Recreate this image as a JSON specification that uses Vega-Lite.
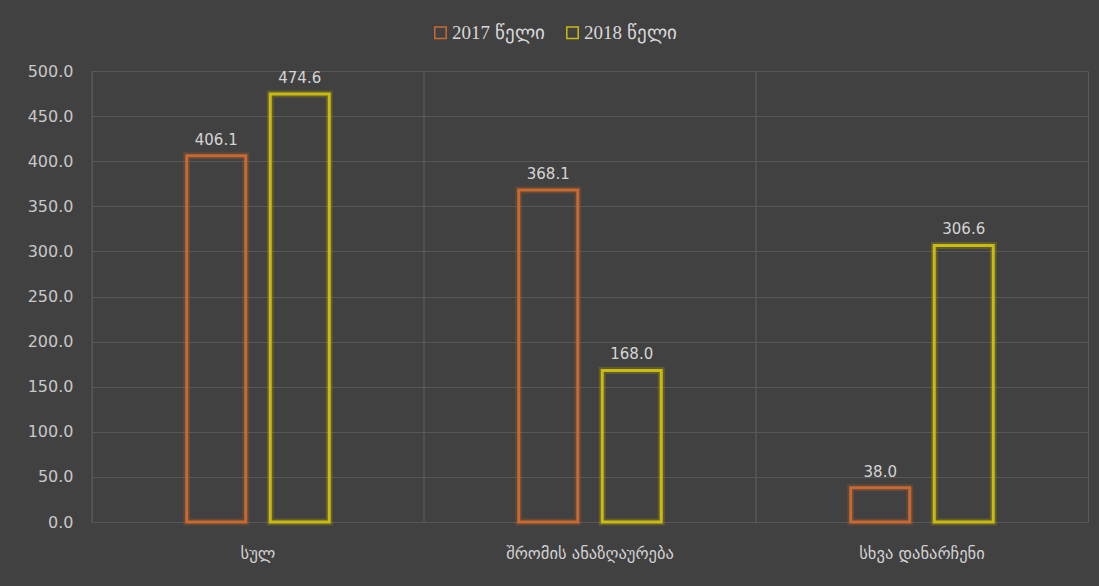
{
  "$schema": "https://vega.github.io/schema/vega-lite/v6.json",
  "width": 996,
  "height": 451,
  "autosize": {"type": "none"},
  "padding": {"left": 92, "top": 71, "right": 11, "bottom": 64},
  "background": "#414141",
  "config": {
    "view": {"stroke": "#5a5a5a", "strokeWidth": 1},
    "font": "DejaVu Sans"
  },
  "data": {
    "values": [
      {"category": "სულ", "year": "2017 წელი", "value": 406.1},
      {"category": "სულ", "year": "2018 წელი", "value": 474.6},
      {"category": "შრომის ანაზღაურება", "year": "2017 წელი", "value": 368.1},
      {"category": "შრომის ანაზღაურება", "year": "2018 წელი", "value": 168.0},
      {"category": "სხვა დანარჩენი", "year": "2017 წელი", "value": 38.0},
      {"category": "სხვა დანარჩენი", "year": "2018 წელი", "value": 306.6}
    ]
  },
  "encoding": {
    "x": {
      "field": "category",
      "type": "nominal",
      "sort": null,
      "scale": {"paddingInner": 0, "paddingOuter": 0},
      "axis": {
        "title": null,
        "labelAngle": 0,
        "domain": false,
        "ticks": false,
        "grid": false,
        "labelColor": "#d2d2d2",
        "labelFontSize": 16.5,
        "labelPadding": 23
      }
    }
  },
  "layer": [
    {
      "mark": {"type": "rule", "color": "#575757", "strokeWidth": 1},
      "encoding": {
        "x": {"field": "category", "type": "nominal", "sort": null, "bandPosition": 0}
      }
    },
    {
      "mark": {"type": "bar", "fill": "transparent", "strokeWidth": 7, "strokeOpacity": 0.22, "width": 59},
      "encoding": {
        "xOffset": {"field": "year", "type": "nominal", "scale": {"paddingInner": 0, "paddingOuter": 0.988}},
        "y": {
          "field": "value",
          "type": "quantitative",
          "scale": {"domain": [0, 500], "nice": false},
          "axis": {
            "title": null,
            "values": [0, 50, 100, 150, 200, 250, 300, 350, 400, 450, 500],
            "format": ".1f",
            "domain": false,
            "ticks": false,
            "gridColor": "#575757",
            "gridWidth": 1,
            "labelColor": "#c8c8c8",
            "labelFontSize": 16,
            "labelPadding": 19
          }
        },
        "stroke": {
          "field": "year",
          "type": "nominal",
          "scale": {"range": ["#c9692f", "#cbbb0a"]},
          "legend": {
            "title": null,
            "orient": "none",
            "direction": "horizontal",
            "legendX": 339,
            "legendY": -48,
            "symbolType": "square",
            "symbolFillColor": "transparent",
            "symbolStrokeWidth": 1.5,
            "symbolSize": 130,
            "symbolOpacity": 1,
            "labelColor": "#d8d8d8",
            "labelFontSize": 19,
            "labelFont": "Liberation Serif",
            "labelOffset": 2,
            "columnPadding": 18
          }
        }
      }
    },
    {
      "mark": {"type": "bar", "fill": "transparent", "strokeWidth": 3, "width": 59},
      "encoding": {
        "xOffset": {"field": "year", "type": "nominal", "scale": {"paddingInner": 0, "paddingOuter": 0.988}},
        "y": {"field": "value", "type": "quantitative"},
        "stroke": {"field": "year", "type": "nominal"}
      }
    },
    {
      "mark": {"type": "text", "baseline": "bottom", "dy": -8, "color": "#d4d4d4", "fontSize": 15},
      "encoding": {
        "xOffset": {"field": "year", "type": "nominal", "scale": {"paddingInner": 0, "paddingOuter": 0.988}},
        "y": {"field": "value", "type": "quantitative"},
        "text": {"field": "value", "type": "quantitative", "format": ".1f"}
      }
    }
  ]
}
